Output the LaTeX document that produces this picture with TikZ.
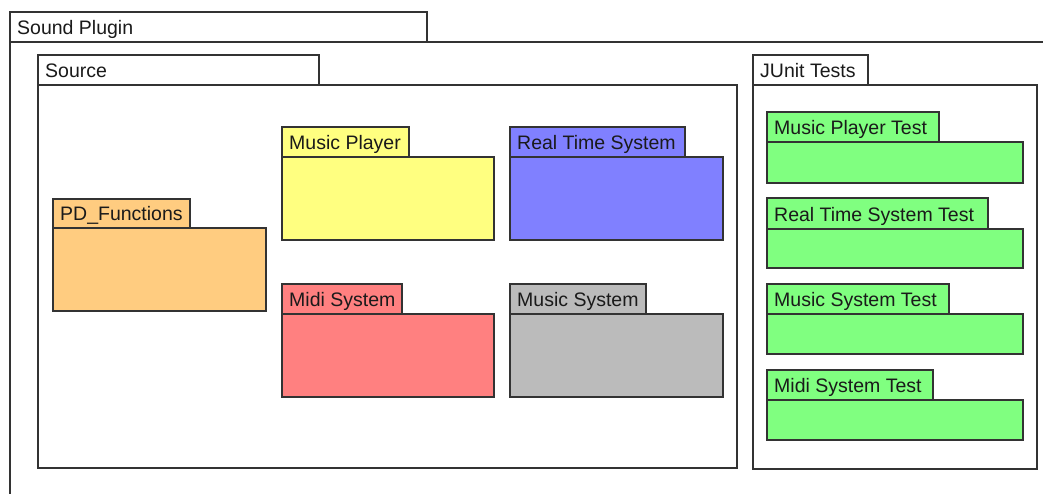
\documentclass[tikz,border=0pt]{standalone}
\usepackage{fontspec}
\setmainfont{Liberation Sans}
\definecolor{lineC}{HTML}{333333}
\definecolor{txtC}{HTML}{1A1A1A}
\definecolor{cYellow}{HTML}{FFFF80}
\definecolor{cBlue}{HTML}{8080FF}
\definecolor{cOrange}{HTML}{FFCC80}
\definecolor{cRed}{HTML}{FF8080}
\definecolor{cGray}{HTML}{BBBBBB}
\definecolor{cGreen}{HTML}{80FF80}
\tikzset{
  box/.style={draw=lineC, line width=1.3pt, anchor=north west, inner sep=0pt, outer sep=0pt},
  lbl/.style={anchor=base west, inner sep=0pt, text=txtC, font=\fontsize{19.5}{22}\selectfont},
}
% #1 name, #2 left, #3 top, #4 tab right, #5 tab bottom, #6 body right, #7 body bottom, #8 fill, #9 label
\newcommand\umlpkg[9]{%
  \node[box, fill=#8, minimum width={#6-#2}, minimum height={#7-#5}] (#1body) at (#2,#5) {};
  \node[box, fill=#8, minimum width={#4-#2}, minimum height={#5-#3}] (#1tab) at (#2,#3) {};
  \node[lbl] (#1lbl) at ([xshift=7pt,yshift=7.2pt]#1tab.south west) {#9};
}
\begin{document}
\begin{tikzpicture}[x=1pt,y=-1pt]
\useasboundingbox (0,0) rectangle (1043,493);
\clip (0,0) rectangle (1043,493);
\fill[white] (0,0) rectangle (1043,493);
% outer package
\umlpkg{sp}{10}{12}{427}{42}{1070}{520}{white}{Sound Plugin}
% source
\umlpkg{src}{38}{55}{319}{85}{737}{468}{white}{Source}
\umlpkg{pd}{53}{199}{190}{228}{266}{311}{cOrange}{PD\_Functions}
\umlpkg{mp}{282}{127}{409}{157}{494}{240}{cYellow}{Music Player}
\umlpkg{rts}{510}{127}{685}{157}{723}{240}{cBlue}{Real Time System}
\umlpkg{mid}{282}{284}{402}{314}{494}{397}{cRed}{Midi System}
\umlpkg{ms}{510}{284}{646}{314}{723}{397}{cGray}{Music System}
% junit
\umlpkg{ju}{753}{55}{868}{85}{1037}{469}{white}{JUnit Tests}
\umlpkg{mpt}{767}{112}{939}{142}{1023}{183}{cGreen}{Music Player Test}
\umlpkg{rtst}{767}{198}{988}{229}{1023}{268}{cGreen}{Real Time System Test}
\umlpkg{mst}{767}{284}{949}{314}{1023}{354}{cGreen}{Music System Test}
\umlpkg{midt}{767}{370}{933}{400}{1023}{440}{cGreen}{Midi System Test}
\end{tikzpicture}
\end{document}
